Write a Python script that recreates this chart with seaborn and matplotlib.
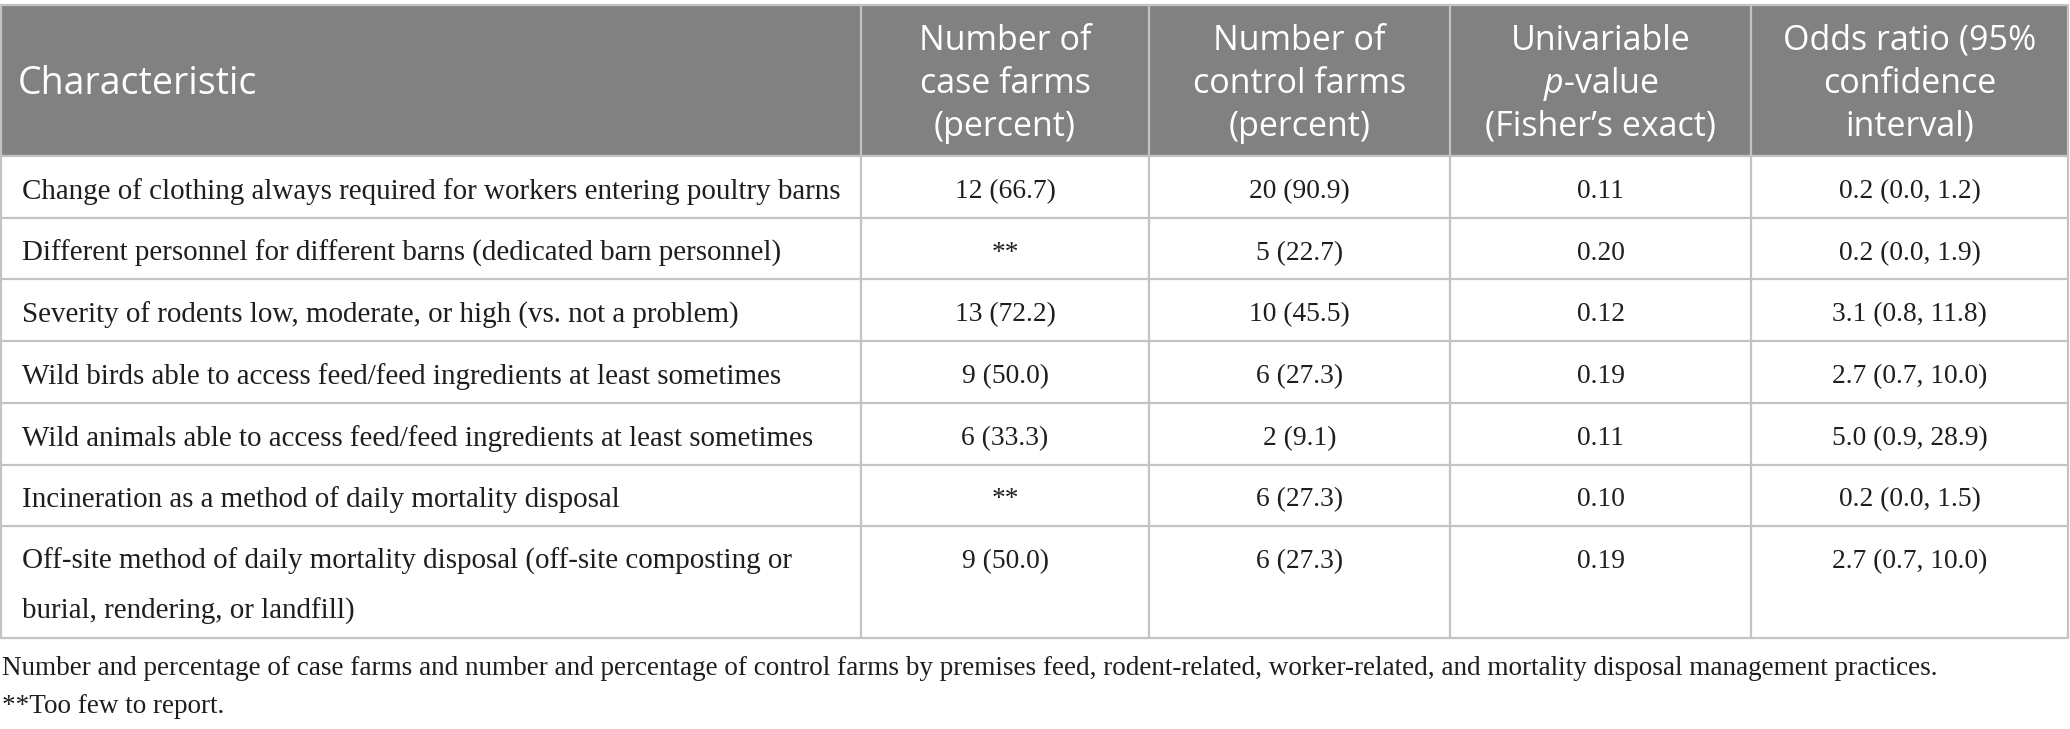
import numpy as np
import pandas as pd
import seaborn as sns
import matplotlib.pyplot as plt
from matplotlib.patches import Rectangle

# table content
headers = [
    ["Characteristic"],
    ["Number of", "case farms", "(percent)"],
    ["Number of", "control farms", "(percent)"],
    ["Univariable", r"$\mathit{p}$-value", "(Fisher\u2019s exact)"],
    ["Odds ratio (95%", "confidence", "interval)"],
]
characteristics = [
    ["Change of clothing always required for workers entering poultry barns"],
    ["Different personnel for different barns (dedicated barn personnel)"],
    ["Severity of rodents low, moderate, or high (vs. not a problem)"],
    ["Wild birds able to access feed/feed ingredients at least sometimes"],
    ["Wild animals able to access feed/feed ingredients at least sometimes"],
    ["Incineration as a method of daily mortality disposal"],
    ["Off-site method of daily mortality disposal (off-site composting or",
     "burial, rendering, or landfill)"],
]
case_farms = ["12 (66.7)", "**", "13 (72.2)", "9 (50.0)", "6 (33.3)", "**", "9 (50.0)"]
control_farms = ["20 (90.9)", "5 (22.7)", "10 (45.5)", "6 (27.3)", "2 (9.1)", "6 (27.3)", "6 (27.3)"]
p_values = ["0.11", "0.20", "0.12", "0.19", "0.11", "0.10", "0.19"]
odds_ratios = ["0.2 (0.0, 1.2)", "0.2 (0.0, 1.9)", "3.1 (0.8, 11.8)", "2.7 (0.7, 10.0)",
               "5.0 (0.9, 28.9)", "0.2 (0.0, 1.5)", "2.7 (0.7, 10.0)"]
footnotes = [
    "Number and percentage of case farms and number and percentage of control farms by premises feed, "
    "rodent-related, worker-related, and mortality disposal management practices.",
    "**Too few to report.",
]

df = pd.DataFrame({"characteristic": characteristics, "case": case_farms,
                   "control": control_farms, "p": p_values, "odds": odds_ratios})

sns.set_theme(style="white")
plt.rcParams["mathtext.fontset"] = "custom"
plt.rcParams["mathtext.it"] = "Open Sans:italic"
plt.rcParams["mathtext.rm"] = "Open Sans"

head_font = ["Open Sans", "DejaVu Sans"]
body_font = ["Liberation Serif", "DejaVu Serif"]
head_bg = "#808180"
grid_col = "#c3c3c3"
text_col = "#1e1e1e"

fig = plt.figure(figsize=(20.7, 7.29), dpi=100)
ax = fig.add_axes([0, 0, 1, 1])
ax.set_xlim(0, 2070)
ax.set_ylim(729, 0)
ax.axis("off")

col_edges = [1, 861, 1149, 1450, 1751, 2068]
top, head_bot = 5, 156
row_h, line_h = 61.7, 50

# row edges from the number of text lines in each row
row_edges = [head_bot]
for lines in df["characteristic"]:
    row_edges.append(row_edges[-1] + row_h + line_h * (len(lines) - 1))
bottom = row_edges[-1]

ax.add_patch(Rectangle((col_edges[0], top), col_edges[-1] - col_edges[0], head_bot - top,
                       facecolor=head_bg, edgecolor="none", zorder=1))

# header text
for j, lines in enumerate(headers):
    n = len(lines)
    mid = (top + head_bot) / 2 + 3
    for k, line in enumerate(lines):
        y = mid + (k - (n - 1) / 2) * 43
        if j == 0:
            ax.text(col_edges[0] + 17, y, line, color="white", fontsize=27,
                    family=head_font, va="center", ha="left", zorder=3)
        else:
            x = (col_edges[j] + col_edges[j + 1]) / 2
            ax.text(x, y, line, color="white", fontsize=24.5,
                    family=head_font, va="center", ha="center", zorder=3)

# body text
for i, row in df.iterrows():
    y0 = row_edges[i] + 35.5
    for k, line in enumerate(row["characteristic"]):
        ax.text(col_edges[0] + 21, y0 + k * line_h, line, color=text_col, fontsize=20.9,
                family=body_font, va="center", ha="left", zorder=3)
    for j, key in enumerate(["case", "control", "p", "odds"], start=1):
        x = (col_edges[j] + col_edges[j + 1]) / 2
        ax.text(x, y0, row[key], color=text_col, fontsize=19.8,
                family=body_font, va="center", ha="center", zorder=3)

# grid lines
for y in row_edges:
    ax.plot([col_edges[0], col_edges[-1]], [y, y], color=grid_col, lw=1.6, zorder=2)
ax.plot([col_edges[0], col_edges[-1]], [top, top], color=grid_col, lw=1.6, zorder=2)
for x in col_edges:
    ax.plot([x, x], [top, bottom], color=grid_col, lw=1.6, zorder=2)

# footnotes
for k, note in enumerate(footnotes):
    ax.text(2, bottom + 31 + k * 38, note, color=text_col, fontsize=19.55,
            family=body_font, va="center", ha="left")

fig.savefig("out.png", dpi=100, facecolor="white")
